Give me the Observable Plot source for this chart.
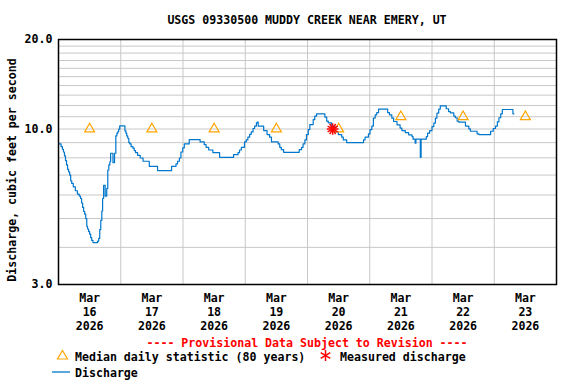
<!DOCTYPE html>
<html>
<head>
<meta charset="utf-8">
<script src="https://cdn.jsdelivr.net/npm/d3@7"></script>
<script src="https://cdn.jsdelivr.net/npm/@observablehq/plot@0.6"></script>
<style>
  body { margin: 0; background: #fff; }
  #wrap { position: relative; width: 576px; height: 384px; overflow: hidden;
          font-family: "DejaVu Sans Mono", "Liberation Mono", monospace; font-weight: bold; font-size: 11.6px; color: #000; }
  #title { position: absolute; left: 58px; width: 498px; top: 13px; text-align: center; line-height: 14px; white-space: pre; }
  #chart { position: absolute; left: 0; top: 30px; }
  #ylab { position: absolute; left: 12px; top: 170px; width: 260px; margin-left: -130px; margin-top: -7px; line-height: 14px;
          text-align: center; transform: rotate(-90deg); white-space: pre; }
  .leg { position: absolute; line-height: 14px; white-space: pre; }
  #prov { left: 58px; width: 498px; text-align: center; top: 336px; color: #ff0000; }
  .sym { position: absolute; }
</style>
</head>
<body>
<div id="wrap">
  <div id="title"></div>
  <div id="chart"></div>
  <div id="ylab"></div>
  <div id="prov" class="leg"></div>
  <svg class="sym" style="left:56px;top:349px" width="13" height="12"><path d="M6.5,1.5 L11.5,10 L1.5,10 Z" fill="none" stroke="#ffa500" stroke-width="1.2"/></svg>
  <div id="leg1" class="leg" style="left:75px;top:350px"></div>
  <svg class="sym" style="left:319px;top:349px" width="13" height="13"><g stroke="#ff0000" stroke-width="1.5"><line x1="6.5" y1="1" x2="6.5" y2="12"/><line x1="1.7" y1="3.7" x2="11.3" y2="9.3"/><line x1="1.7" y1="9.3" x2="11.3" y2="3.7"/></g></svg>
  <div id="leg2" class="leg" style="left:340px;top:350px"></div>
  <svg class="sym" style="left:52px;top:365px" width="18" height="14"><line x1="0" y1="7" x2="18" y2="7" stroke="#0077cc" stroke-width="1.3"/></svg>
  <div id="leg3" class="leg" style="left:75px;top:366px"></div>
</div>
<script>
// ---- Text ----
const titleText = "USGS 09330500 MUDDY CREEK NEAR EMERY, UT";
const yLabel = "Discharge, cubic feet per second";
const provText = "---- Provisional Data Subject to Revision ----";
const legendMedian = "Median daily statistic (80 years)";
const legendMeasured = "Measured discharge";
const legendFlow = "Discharge";

// ---- Axis ticks ----
const tickMonth = "Mar";
const tickYear = "2026";
const tickDays = [16, 17, 18, 19, 20, 21, 22, 23];
const gridDays = [17, 18, 19, 20, 21, 22, 23];
const yTicks = [3, 10, 20];
const yGrid = [4, 5, 6, 7, 8, 9, 10, 11, 12, 13, 14, 15, 16, 17, 18, 19];

// ---- Discharge (hours after 2026-03-16 00:00, cfs) ----
const flowHours = [0.0, 1.0, 1.5, 1.9, 2.3, 2.7, 3.1, 3.5, 3.9, 4.3, 4.7, 5.1, 5.7, 6.5, 7.3, 8.0, 8.5, 8.9, 9.3, 9.7,
  10.1, 10.5, 10.9, 11.2, 11.6, 12.0, 12.4, 12.8, 13.3, 15.1, 15.5, 15.9, 16.3, 16.7, 17.0, 17.4, 18.0, 18.6, 19.0, 19.4,
  19.8, 20.1, 21.0, 21.6, 22.1, 22.5, 22.9, 23.2, 23.6, 25.6, 26.0, 26.3, 26.7, 27.1, 27.5, 28.0, 28.7, 29.2, 29.7, 30.5,
  31.5, 32.6, 35.0, 38.2, 43.6, 45.3, 45.9, 46.6, 47.2, 47.9, 48.5, 50.4, 54.6, 56.2, 56.9, 57.9, 59.5, 62.1, 67.5, 69.2,
  69.8, 70.5, 71.7, 72.4, 73.0, 73.7, 74.3, 75.0, 75.6, 76.3, 76.6, 77.0, 79.1, 80.4, 81.4, 82.1, 84.7, 85.3, 85.9, 86.8,
  92.8, 93.7, 94.3, 95.0, 95.6, 96.3, 96.9, 98.2, 98.8, 99.5, 102.7, 103.4, 104.0, 105.3, 106.6, 107.9, 109.2, 109.8, 111.1, 117.6,
  118.2, 119.5, 120.1, 120.8, 121.4, 122.1, 122.7, 123.4, 126.9, 127.6, 128.5, 129.2, 130.5, 131.7, 132.4, 133.7, 135.0, 136.3, 136.7, 137.5,
  137.8, 139.5, 139.8, 141.8, 142.3, 143.1, 144.0, 144.7, 145.3, 145.9, 146.6, 147.2, 149.5, 150.4, 151.1, 152.4, 153.0, 153.7, 154.3, 156.9,
  158.2, 158.8, 161.4, 162.1, 166.6, 167.6, 168.5, 169.2, 169.8, 170.5, 171.1, 175.2, 175.6];
const flowCfs = [8.91, 8.72, 8.55, 8.37, 8.12, 7.83, 7.57, 7.32, 7.18, 7.00, 6.70, 6.56, 6.39, 6.20, 6.04, 5.95, 5.84, 5.64, 5.45, 5.28,
  5.17, 5.00, 4.71, 4.61, 4.52, 4.43, 4.31, 4.22, 4.15, 4.20, 4.29, 4.59, 4.93, 5.30, 5.84, 6.46, 5.95, 6.31, 7.28, 7.57,
  7.76, 8.29, 7.70, 8.29, 9.48, 9.68, 9.80, 9.99, 10.25, 9.86, 9.68, 9.48, 9.31, 9.00, 8.91, 8.72, 8.62, 8.46, 8.33, 8.16,
  7.99, 7.79, 7.49, 7.24, 7.49, 7.63, 7.79, 7.99, 8.37, 8.64, 8.91, 9.21, 9.05, 8.86, 8.68, 8.50, 8.33, 8.03, 8.20, 8.33,
  8.50, 8.68, 9.05, 9.19, 9.39, 9.60, 9.78, 10.04, 10.23, 10.49, 10.55, 10.23, 9.88, 9.58, 9.39, 9.05, 8.91, 8.68, 8.52, 8.35,
  8.52, 8.68, 8.91, 9.19, 9.58, 9.96, 10.35, 10.76, 11.05, 11.25, 10.97, 10.63, 10.49, 10.23, 9.78, 9.58, 9.39, 9.19, 9.00, 9.19,
  9.39, 9.63, 9.96, 10.23, 10.88, 11.16, 11.36, 11.67, 11.36, 11.16, 10.88, 10.60, 10.33, 10.07, 9.88, 9.73, 9.56, 9.43, 9.24, 8.96,
  9.24, 8.03, 9.24, 9.43, 9.68, 9.88, 10.19, 10.47, 10.88, 11.31, 11.67, 11.97, 11.70, 11.45, 11.34, 11.05, 10.91, 10.63, 10.55, 10.23,
  10.01, 9.83, 9.63, 9.58, 9.83, 10.04, 10.23, 10.57, 10.91, 11.25, 11.63, 11.25, 11.25];

// ---- Median daily statistic (noon of each day) ----
const medianDays = [16, 17, 18, 19, 20, 21, 22, 23];
const medianCfs = [10.0, 10.0, 10.0, 10.0, 10.0, 11.0, 11.0, 11.0];

// ---- Measured discharge ----
const measuredHour = [105.7];
const measuredCfs = [10.0];

document.getElementById("title").textContent = titleText;
document.getElementById("ylab").textContent = yLabel;
document.getElementById("prov").textContent = provText;
document.getElementById("leg1").textContent = legendMedian;
document.getElementById("leg2").textContent = legendMeasured;
document.getElementById("leg3").textContent = legendFlow;

const base = Date.UTC(2026, 2, 16);
const atHour = h => new Date(base + h * 3600e3);
const flow = flowHours.map((h, i) => ({t: atHour(h), q: flowCfs[i]}));
const medians = medianDays.map((d, i) => ({t: new Date(Date.UTC(2026, 2, d, 12)), q: medianCfs[i]}));
const measured = measuredHour.map((h, i) => ({t: atHour(h), q: measuredCfs[i]}));
const tickDates = tickDays.map(d => new Date(Date.UTC(2026, 2, d, 12)));
const gridDates = gridDays.map(d => new Date(Date.UTC(2026, 2, d)));

const chart = Plot.plot({
  width: 576,
  height: 302,
  marginTop: 9,
  marginBottom: 48,
  marginLeft: 58,
  marginRight: 20,
  style: {fontFamily: "'DejaVu Sans Mono', 'Liberation Mono', monospace", fontSize: "11.6px", fontWeight: "bold", color: "#000", background: "#fff", overflow: "visible"},
  x: {type: "utc", domain: [new Date(Date.UTC(2026, 2, 16)), new Date(Date.UTC(2026, 2, 24))]},
  y: {type: "log", domain: [3, 20]},
  marks: [
    Plot.ruleY(yGrid, {stroke: "#c8c8c8", strokeWidth: 1}),
    Plot.ruleX(gridDates, {stroke: "#c8c8c8", strokeWidth: 1}),
    Plot.axisX(tickDates, {tickSize: 0, tickPadding: 8, lineHeight: 1.2, label: null,
      tickFormat: d => `${tickMonth}\n${d.getUTCDate()}\n${tickYear}`}),
    Plot.axisY(yTicks, {tickSize: 0, tickPadding: 6, tickFormat: d => d.toFixed(1), label: null}),
    Plot.line(flow, {x: "t", y: "q", curve: "step-after", stroke: "#0077cc", strokeWidth: 1.2}),
    Plot.dot(medians, {x: "t", y: "q", symbol: "triangle", r: 3.7, stroke: "#ffa500", fill: "none", strokeWidth: 1.2}),
    Plot.dot(measured, {x: "t", y: "q", symbol: "asterisk", r: 5.5, stroke: "#ff0000", strokeWidth: 1.5}),
    Plot.dot(measured, {x: "t", y: "q", symbol: "asterisk", r: 5.5, rotate: 90, stroke: "#ff0000", strokeWidth: 1.5}),
    Plot.frame({stroke: "#000", strokeWidth: 1.5})
  ]
});
document.getElementById("chart").appendChild(chart);
</script>
</body>
</html>
